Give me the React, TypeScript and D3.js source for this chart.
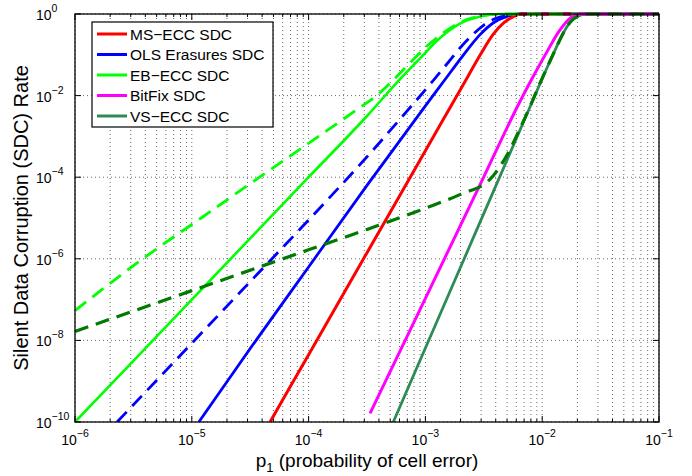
import React from 'react';
import * as d3 from 'd3';

const W = 692;
const H = 476;
const PLOT = { left: 75, right: 659, top: 14, bottom: 422 };

const xTickExps = [-6, -5, -4, -3, -2, -1];
const yTickExps = [0, -2, -4, -6, -8, -10];

const legendNames = ['MS\u2212ECC SDC', 'OLS Erasures SDC', 'EB\u2212ECC SDC', 'BitFix SDC', 'VS\u2212ECC SDC'];
const legendColors = ['#ff0000', '#0000ff', '#00ff00', '#ff00ff', '#2e8b57'];

// values stored as log10 exponents
const msEccLogP = [-4.33, -4.0, -3.5, -3.0, -2.75, -2.63, -2.53, -2.42, -2.33, -2.25, -2.18, -1.0];
const msEccLogSdc = [-10, -8.35, -5.85, -3.35, -2.1, -1.5, -1.0, -0.5, -0.22, -0.07, 0, 0];

const olsLogP = [-4.94, -4.5, -4.0, -3.5, -3.0, -2.83, -2.7, -2.6, -2.53, -2.42, -2.3, -2.18, -1.0];
const olsLogSdc = [-10, -8.2, -6.2, -4.2, -2.25, -1.6, -1.1, -0.73, -0.5, -0.22, -0.06, 0, 0];

const olsDashLogP = [-5.64, -5.0, -4.5, -4.0, -3.5, -3.2, -2.93, -2.8, -2.7, -2.6, -2.5, -2.4, -2.28, -2.15, -1.0];
const olsDashLogSdc = [-10, -8.07, -6.56, -5.05, -3.5, -2.52, -1.62, -1.17, -0.82, -0.52, -0.27, -0.11, -0.03, 0, 0];

const ebLogP = [-6, -5, -4, -3.5, -3.25, -3.05, -2.88, -2.7, -2.53, -2.35, -1];
const ebLogSdc = [-10, -7, -4, -2.5, -1.7, -1.1, -0.6, -0.23, -0.06, 0, 0];

const ebDashLogP = [-6, -5.42, -4.92, -4.42, -3.9, -3.6, -3.41, -3.3, -3.15, -3.0, -2.85, -2.7, -2.55, -2.4, -2.3, -1];
const ebDashLogSdc = [-7.27, -6, -5, -4, -2.97, -2.37, -1.98, -1.69, -1.25, -0.82, -0.47, -0.2, -0.06, -0.01, 0, 0];

const bitFixLogP = [-3.474, -3.0, -2.5, -2.2, -2.09, -1.956, -1.862, -1.796, -1.748, -1.68, -1];
const bitFixLogSdc = [-9.79, -6.97, -3.99, -2.2, -1.6, -0.91, -0.45, -0.2, -0.07, 0, 0];

const vsLogP = [-3.275, -2.8, -2.4, -2.1, -2.01, -1.9, -1.82, -1.76, -1.7, -1.62, -1];
const vsLogSdc = [-10, -6.87, -4.23, -2.25, -1.65, -0.95, -0.47, -0.2, -0.06, 0, 0];

const vsDashLogP = [-6, -5, -4, -3.5, -3, -2.7, -2.45, -2.3, -2.2, -2.1, -2.01, -1.9, -1.82, -1.76, -1.7, -1.62, -1];
const vsDashLogSdc = [-7.78, -6.78, -5.78, -5.28, -4.76, -4.42, -4.06, -3.45, -2.87, -2.24, -1.64, -0.95, -0.47, -0.2, -0.06, 0, 0];

const toPts = (lp: number[], ly: number[]): [number, number][] =>
  lp.map((e, i) => [Math.pow(10, e), Math.pow(10, ly[i])]);

// drawing order
const series = [
  { pts: toPts(ebLogP, ebLogSdc), color: '#00ff00', dash: null, w: 2.6 },
  { pts: toPts(olsLogP, olsLogSdc), color: '#0000ff', dash: null, w: 2.8 },
  { pts: toPts(olsDashLogP, olsDashLogSdc), color: '#0000ff', dash: '14,8', w: 2.8 },
  { pts: toPts(msEccLogP, msEccLogSdc), color: '#ff0000', dash: null, w: 3 },
  { pts: toPts(ebDashLogP, ebDashLogSdc), color: '#00ff00', dash: '14,8', w: 2.8 },
  { pts: toPts(vsLogP, vsLogSdc), color: '#2e8b57', dash: null, w: 2.8 },
  { pts: toPts(bitFixLogP, bitFixLogSdc), color: '#ff00ff', dash: null, w: 3 },
  { pts: toPts(vsDashLogP, vsDashLogSdc), color: '#007a00', dash: '14,8', w: 3.2 },
];

export default function App() {
  const x = d3.scaleLog().domain([1e-6, 1e-1]).range([PLOT.left, PLOT.right]);
  const y = d3.scaleLog().domain([1e-10, 1]).range([PLOT.bottom, PLOT.top]);
  const line = d3
    .line<[number, number]>()
    .x((d) => x(d[0]))
    .y((d) => y(d[1]))
    .curve(d3.curveMonotoneX);

  const allX = x.ticks();
  const isMajor = (v: number) => Math.abs(Math.log10(v) - Math.round(Math.log10(v))) < 1e-9;
  const font = '"Liberation Sans", Arial, Helvetica, sans-serif';

  return (
    <svg width={W} height={H} style={{ position: 'absolute', left: 0, top: 0, background: '#fff' }} fontFamily={font}>
      <defs>
        <clipPath id="plotclip">
          <rect x={PLOT.left} y={PLOT.top - 2} width={PLOT.right - PLOT.left} height={PLOT.bottom - PLOT.top + 2} />
        </clipPath>
      </defs>
      <rect x={0} y={0} width={W} height={H} fill="#fff" />
      {/* grid */}
      <g stroke="#444" strokeWidth={0.8} strokeDasharray="1,3">
        {allX.map((v, i) => (
          <line key={'gx' + i} x1={x(v)} x2={x(v)} y1={PLOT.top} y2={PLOT.bottom} />
        ))}
        {yTickExps.map((e) => (
          <line key={'gy' + e} x1={PLOT.left} x2={PLOT.right} y1={y(Math.pow(10, e))} y2={y(Math.pow(10, e))} />
        ))}
      </g>
      {/* series */}
      <g clipPath="url(#plotclip)" fill="none">
        {series.map((s, i) => (
          <path
            key={'s' + i}
            d={line(s.pts) || ''}
            stroke={s.color}
            strokeWidth={s.w}
            strokeDasharray={s.dash || undefined}
            strokeLinejoin="round"
          />
        ))}
      </g>
      {/* ticks */}
      <g stroke="#000" strokeWidth={1}>
        {allX.map((v, i) => {
          const len = isMajor(v) ? 6 : 3;
          return (
            <g key={'tx' + i}>
              <line x1={x(v)} x2={x(v)} y1={PLOT.bottom} y2={PLOT.bottom - len} />
              <line x1={x(v)} x2={x(v)} y1={PLOT.top} y2={PLOT.top + len} />
            </g>
          );
        })}
        {yTickExps.map((e) => (
          <g key={'ty' + e}>
            <line x1={PLOT.left} x2={PLOT.left + 6} y1={y(Math.pow(10, e))} y2={y(Math.pow(10, e))} />
            <line x1={PLOT.right} x2={PLOT.right - 6} y1={y(Math.pow(10, e))} y2={y(Math.pow(10, e))} />
          </g>
        ))}
      </g>
      <rect
        x={PLOT.left}
        y={PLOT.top}
        width={PLOT.right - PLOT.left}
        height={PLOT.bottom - PLOT.top}
        fill="none"
        stroke="#000"
        strokeWidth={1.3}
      />
      {/* x tick labels */}
      {xTickExps.map((e) => (
        <text key={'lx' + e} x={x(Math.pow(10, e))} y={445} textAnchor="middle" fill="#000">
          <tspan fontSize={14}>10</tspan>
          <tspan fontSize={10.5} dy={-8}>{'\u2212' + Math.abs(e)}</tspan>
        </text>
      ))}
      {/* y tick labels */}
      {yTickExps.map((e) => (
        <text key={'ly' + e} x={36} y={y(Math.pow(10, e)) + 6} textAnchor="start" fill="#000">
          <tspan fontSize={14}>10</tspan>
          <tspan fontSize={10.5} dy={-8}>{e === 0 ? '0' : '\u2212' + Math.abs(e)}</tspan>
        </text>
      ))}
      {/* axis labels */}
      <text x={(PLOT.left + PLOT.right) / 2} y={467} textAnchor="middle" fontSize={19} fill="#000">
        <tspan>p</tspan>
        <tspan fontSize={13} dy={5}>1</tspan>
        <tspan dy={-5}>{' (probability of cell error)'}</tspan>
      </text>
      <text
        transform={`translate(28, ${(PLOT.top + PLOT.bottom) / 2}) rotate(-90)`}
        textAnchor="middle"
        fontSize={20}
        fill="#000"
      >
        Silent Data Corruption (SDC) Rate
      </text>
      {/* legend */}
      <g>
        <rect x={92} y={22} width={181} height={105} fill="#fff" stroke="#000" strokeWidth={1.2} />
        {legendNames.map((n, i) => {
          const ly = 34 + i * 20.5;
          return (
            <g key={'lg' + i}>
              <line x1={97} x2={127} y1={ly} y2={ly} stroke={legendColors[i]} strokeWidth={3} />
              <text x={130} y={ly} dy="0.36em" fontSize={15.5} fill="#000">
                {n}
              </text>
            </g>
          );
        })}
      </g>
    </svg>
  );
}
